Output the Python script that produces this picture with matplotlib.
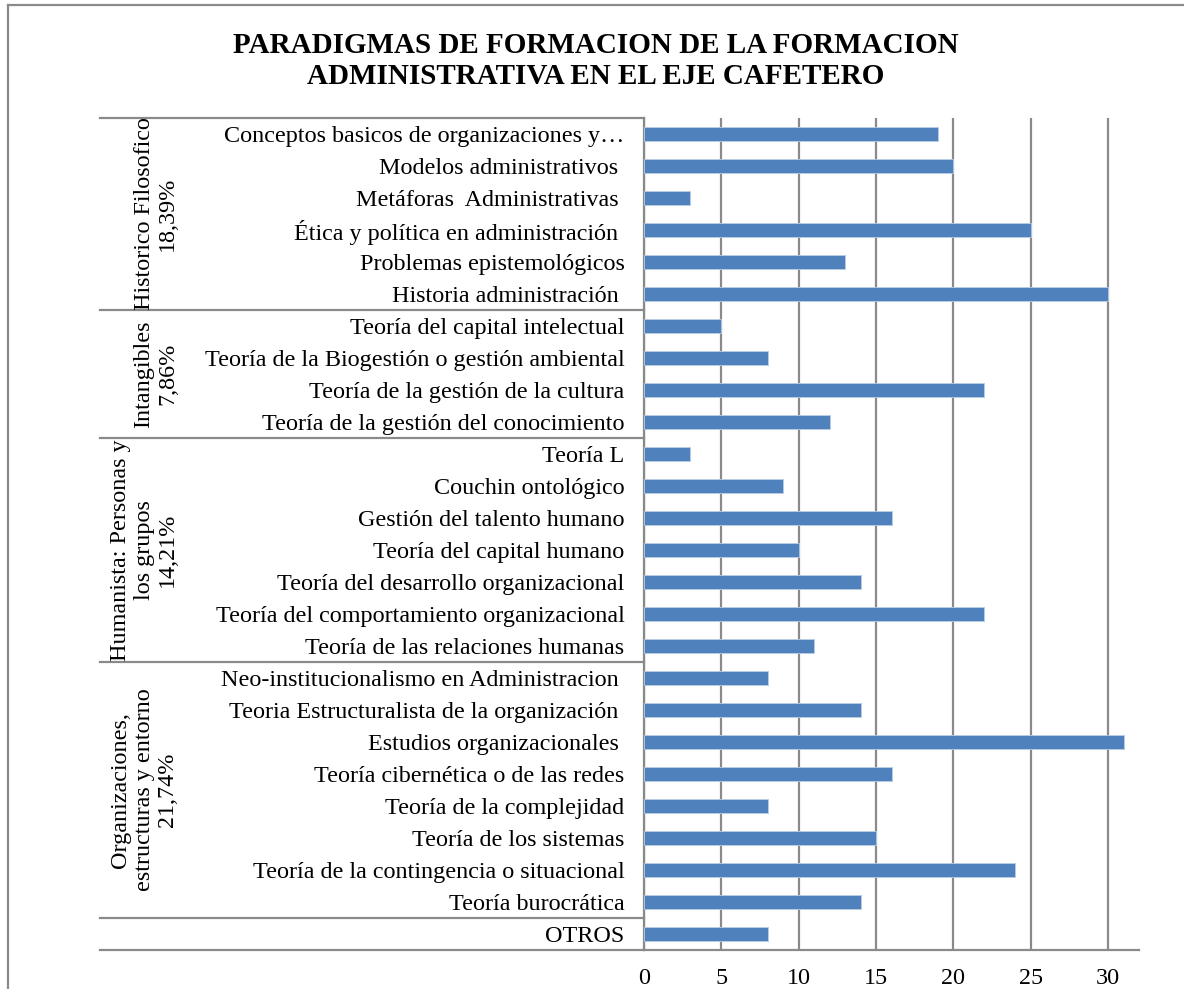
import numpy as np
import matplotlib
matplotlib.use('Agg')
import matplotlib.pyplot as plt
from matplotlib.lines import Line2D
import matplotlib.transforms as mtransforms

plt.rcParams['font.family'] = ['Liberation Serif', 'DejaVu Serif']

# ---------------- data (top to bottom) ----------------
categorias = ['Conceptos basicos de organizaciones y…',
              'Modelos administrativos ',
              'Metáforas  Administrativas ',
              'Ética y política en administración ',
              'Problemas epistemológicos',
              'Historia administración ',
              'Teoría del capital intelectual',
              'Teoría de la Biogestión o gestión ambiental',
              'Teoría de la gestión de la cultura',
              'Teoría de la gestión del conocimiento',
              'Teoría L',
              'Couchin ontológico',
              'Gestión del talento humano',
              'Teoría del capital humano',
              'Teoría del desarrollo organizacional',
              'Teoría del comportamiento organizacional',
              'Teoría de las relaciones humanas',
              'Neo-institucionalismo en Administracion ',
              'Teoria Estructuralista de la organización ',
              'Estudios organizacionales ',
              'Teoría cibernética o de las redes',
              'Teoría de la complejidad',
              'Teoría de los sistemas',
              'Teoría de la contingencia o situacional',
              'Teoría burocrática',
              'OTROS']
valores = [19, 20, 3, 25, 13, 30,
           5, 8, 22, 12,
           3, 9, 16, 10, 14, 22, 11,
           8, 14, 31, 16, 8, 15, 24, 14,
           8]
grupos = ['Historico Filosofico\n18,39%',
          'Intangibles\n7,86%',
          'Humanista: Personas y\nlos grupos\n14,21%',
          'Organizaciones,\nestructuras y entorno\n21,74%']
grupo_tamano = [6, 4, 7, 8]
x_ticks = [0, 5, 10, 15, 20, 25, 30]

titulo = 'PARADIGMAS DE FORMACION DE LA FORMACION\nADMINISTRATIVA EN EL EJE CAFETERO'

W, H = 1184, 989
fig = plt.figure(figsize=(W / 100, H / 100), dpi=100)
fig.patch.set_facecolor('white')

ax = fig.add_axes([644 / W, 1 - 950 / H, (1139 - 644) / W, (950 - 118) / H])

grid_col = '#8a8a8a'
fs = 17.4
y = np.arange(len(categorias))
ax.barh(y, valores, height=0.42, color='#4F81BD', edgecolor='#b9cde5', linewidth=0.6, zorder=3)

ax.set_xlim(0, 32)
ax.set_ylim(len(categorias) - 0.5, -0.5)
ax.set_xticks(x_ticks)
ax.set_xticklabels([str(t) for t in x_ticks], fontsize=fs)
ax.set_yticks(y)
ax.set_yticklabels(categorias, fontsize=fs)
ax.tick_params(axis='x', length=0, pad=13)
ax.tick_params(axis='y', length=0, pad=14)
ax.grid(axis='x', color=grid_col, linewidth=1.6, zorder=0)
ax.set_axisbelow(True)
for s in ['top', 'right']:
    ax.spines[s].set_visible(False)
for s in ['left', 'bottom']:
    ax.spines[s].set_color(grid_col)
    ax.spines[s].set_linewidth(1.6)

# ---------------- multi-level category axis ----------------
trans = mtransforms.blended_transform_factory(fig.transFigure, ax.transData)
bordes = [-0.5] + list(np.cumsum(grupo_tamano) - 0.5) + [len(categorias) - 0.5]
for b in bordes:
    fig.add_artist(Line2D([100 / W, 644 / W], [b, b], transform=trans,
                          color=grid_col, linewidth=1.6))

inicio = 0
for g, n in zip(grupos, grupo_tamano):
    centro = inicio + (n - 1) / 2
    fig.text(178 / W, centro, g, transform=trans, rotation=90, ha='right', va='center',
             multialignment='center', fontsize=fs, linespacing=1.15)
    inicio += n

# ---------------- title and page frame ----------------
fig.text(596 / W, 1 - 61 / H, titulo, ha='center', va='center', fontsize=21,
         fontweight='bold', linespacing=1.18)
fig.add_artist(Line2D([8 / W, 1], [1 - 5 / H, 1 - 5 / H], color=grid_col, linewidth=1.6))
fig.add_artist(Line2D([8 / W, 8 / W], [0, 1 - 5 / H], color=grid_col, linewidth=1.6))

plt.savefig('out.png', dpi=100)
